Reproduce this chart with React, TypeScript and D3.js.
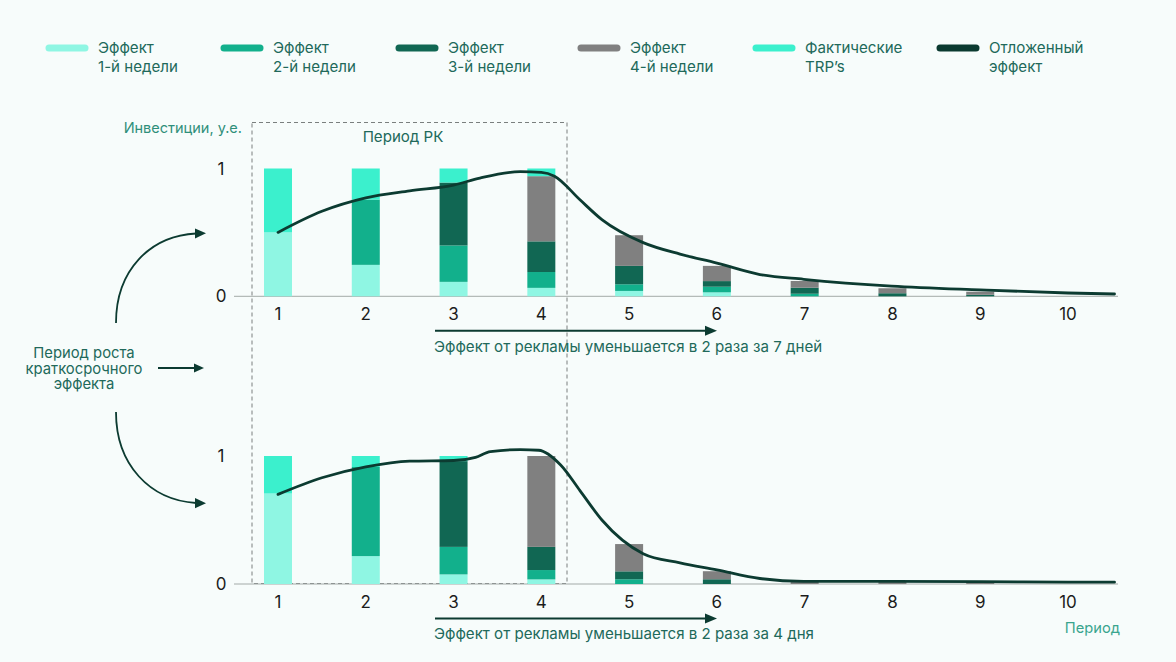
import React from "react";
import * as d3 from "d3";

const periods = [1, 2, 3, 4, 5, 6, 7, 8, 9, 10];
const yTicks = [0, 1];

// Top chart (effect halves in 7 days) – segment heights
const topWeek1 = [0.5, 0.246, 0.113, 0.066, 0.042, 0.031, 0.0, 0, 0, 0];
const topWeek2 = [0, 0.511, 0.285, 0.124, 0.052, 0.044, 0.02, 0, 0, 0];
const topWeek3 = [0, 0, 0.492, 0.24, 0.144, 0.044, 0.047, 0.024, 0.012, 0];
const topWeek4 = [0, 0, 0, 0.51, 0.24, 0.119, 0.053, 0.039, 0.024, 0];
const topTrp = [0.5, 0.243, 0.11, 0.06, 0, 0, 0, 0, 0, 0];
const topLineP = [1.0, 1.5, 2.0, 2.5, 3.0, 3.3, 3.76, 4.0, 4.15, 4.44, 4.69, 5.16, 5.58, 6.0, 6.49, 6.99, 7.99, 9.0, 10.0, 10.53];
const topLineV = [0.5, 0.665, 0.77, 0.825, 0.87, 0.925, 0.975, 0.97, 0.94, 0.755, 0.6, 0.42, 0.33, 0.26, 0.17, 0.133, 0.08, 0.05, 0.026, 0.018];

// Bottom chart (effect halves in 4 days)
const botWeek1 = [0.707, 0.218, 0.075, 0.036, 0.0, 0, 0, 0, 0, 0];
const botWeek2 = [0, 0.696, 0.215, 0.073, 0.037, 0, 0, 0, 0, 0];
const botWeek3 = [0, 0, 0.67, 0.181, 0.062, 0.037, 0, 0, 0, 0];
const botWeek4 = [0, 0, 0, 0.71, 0.213, 0.063, 0.02, 0.015, 0.01, 0];
const botTrp = [0.293, 0.086, 0.04, 0, 0, 0, 0, 0, 0, 0];
const botLineP = [1.0, 1.5, 2.0, 2.5, 3.0, 3.25, 3.42, 3.76, 3.97, 4.22, 4.44, 4.69, 5.16, 5.58, 6.0, 6.49, 6.99, 8.0, 9.0, 10.0, 10.53];
const botLineV = [0.7, 0.83, 0.915, 0.96, 0.965, 0.99, 1.035, 1.05, 1.045, 0.93, 0.73, 0.5, 0.237, 0.165, 0.11, 0.043, 0.021, 0.02, 0.018, 0.015, 0.014];

const legendLabels = [
  ["Эффект", "1-й недели"],
  ["Эффект", "2-й недели"],
  ["Эффект", "3-й недели"],
  ["Эффект", "4-й недели"],
  ["Фактические", "TRP’s"],
  ["Отложенный", "эффект"],
];

const COLORS = ["#8ff6e3", "#12b08c", "#116753", "#808080", "#3bf0cd", "#0b3a30"];
const LEGEND_X = [46, 221, 396, 578, 753, 937];

const FONT = "Inter, 'Noto Sans', sans-serif";
const TEXT_GREEN = "#21695a";
const DARK = "#0c3b31";
const FS = 15.1;

const x = d3.scaleLinear().domain([1, 10]).range([278, 1068]);
const BAR_W = 28;

function Chart({ y0, y1, series, lineP, lineV, label }: any) {
  const y = d3.scaleLinear().domain([0, 1]).range([y0, y1]);
  const line = d3
    .line<number>()
    .x((_, i) => x(lineP[i]))
    .y((v) => y(v))
    .curve(d3.curveMonotoneX);
  const stack = d3
    .stack<number>()
    .keys(["0", "1", "2", "3", "4"])
    .value((i, k) => series[+k][i]);
  const stacked = stack(periods.map((_, i) => i) as any);
  return (
    <g>
      <line x1={234} x2={1118} y1={y(0)} y2={y(0)} stroke="#a3aaa8" strokeWidth={1} />
      {yTicks.map((t) => (
        <text key={t} x={221} y={y(t)} dy="0.36em" textAnchor="middle" fontSize={17} fill="#1c1c1c" fontFamily={FONT}>
          {t}
        </text>
      ))}
      {stacked.map((layer: any, li: number) => (
        <g key={li} fill={COLORS[li]}>
          {layer.map((d: any, i: number) =>
            d[1] - d[0] > 0 ? (
              <rect key={i} x={x(periods[i]) - BAR_W / 2} width={BAR_W} y={y(d[1])} height={y(d[0]) - y(d[1])} />
            ) : null
          )}
        </g>
      ))}
      <path d={line(lineV) || ""} fill="none" stroke={DARK} strokeWidth={2.8} strokeLinecap="round" />
      {periods.map((p) => (
        <text key={p} x={x(p)} y={y0 + 18} dy="0.36em" textAnchor="middle" fontSize={17} fill="#1c1c1c" fontFamily={FONT}>
          {p}
        </text>
      ))}
      <line x1={435} x2={708} y1={y0 + 34.5} y2={y0 + 34.5} stroke={DARK} strokeWidth={2} />
      <path d={`M705,${y0 + 29.5} L717,${y0 + 34.5} L705,${y0 + 39.5} Z`} fill={DARK} />
      <text x={434} y={y0 + 50} dy="0.36em" fontSize={FS} fill={TEXT_GREEN} fontFamily={FONT}>
        {label}
      </text>
    </g>
  );
}

export default function App() {
  return (
    <div style={{ position: "absolute", left: 0, top: 0 }}>
      <svg width={1176} height={662} viewBox="0 0 1176 662" style={{ display: "block", background: "#f7fcfb" }}>
        <rect x={0} y={0} width={1176} height={662} fill="#f7fcfb" />
        {/* Legend */}
        {legendLabels.map((lab, i) => (
          <g key={i}>
            <line x1={LEGEND_X[i] + 3} x2={LEGEND_X[i] + 39} y1={48} y2={48} stroke={COLORS[i]} strokeWidth={7} strokeLinecap="round" />
            <text x={LEGEND_X[i] + 52} y={48} dy="0.36em" fontSize={FS} fill={TEXT_GREEN} fontFamily={FONT}>
              {lab[0]}
            </text>
            <text x={LEGEND_X[i] + 52} y={67} dy="0.36em" fontSize={FS} fill={TEXT_GREEN} fontFamily={FONT}>
              {lab[1]}
            </text>
          </g>
        ))}
        <text x={242} y={128} dy="0.36em" textAnchor="end" fontSize={14.5} fill="#2f8f7a" fontFamily={FONT}>
          Инвестиции, у.е.
        </text>
        {/* Campaign period box */}
        <rect x={252} y={122.5} width={315} height={461} fill="none" stroke="#7a7f7e" strokeWidth={1} strokeDasharray="4,3" />
        <text x={403} y={137} dy="0.36em" textAnchor="middle" fontSize={FS} fill={TEXT_GREEN} fontFamily={FONT}>
          Период РК
        </text>

        <Chart
          y0={296.3}
          y1={168.5}
          series={[topWeek1, topWeek2, topWeek3, topWeek4, topTrp]}
          lineP={topLineP}
          lineV={topLineV}
          label="Эффект от рекламы уменьшается в 2 раза за 7 дней"
        />
        <Chart
          y0={584}
          y1={456}
          series={[botWeek1, botWeek2, botWeek3, botWeek4, botTrp]}
          lineP={botLineP}
          lineV={botLineV}
          label="Эффект от рекламы уменьшается в 2 раза за 4 дня"
        />

        <text x={1120} y={628} dy="0.36em" textAnchor="end" fontSize={14.7} fill="#3aa58e" fontFamily={FONT}>
          Период
        </text>

        {/* Left annotation */}
        {["Период роста", "краткосрочного", "эффекта"].map((t, i) => (
          <text key={i} x={84} y={352.5 + i * 15.8} dy="0.36em" textAnchor="middle" fontSize={14.8} fill={TEXT_GREEN} fontFamily={FONT}>
            {t}
          </text>
        ))}
        <line x1={158} x2={196} y1={368} y2={368} stroke={DARK} strokeWidth={1.8} />
        <path d="M194,363.5 L204,368 L194,372.5 Z" fill={DARK} />
        <path d="M116,323 C116,270 150,236 196,233.5" fill="none" stroke={DARK} strokeWidth={1.8} />
        <path d="M195,228.5 L206,233.3 L195,238.5 Z" fill={DARK} />
        <path d="M116,412 C116,465 150,500 196,503" fill="none" stroke={DARK} strokeWidth={1.8} />
        <path d="M195,498 L206,503.3 L195,508.3 Z" fill={DARK} />
      </svg>
    </div>
  );
}
